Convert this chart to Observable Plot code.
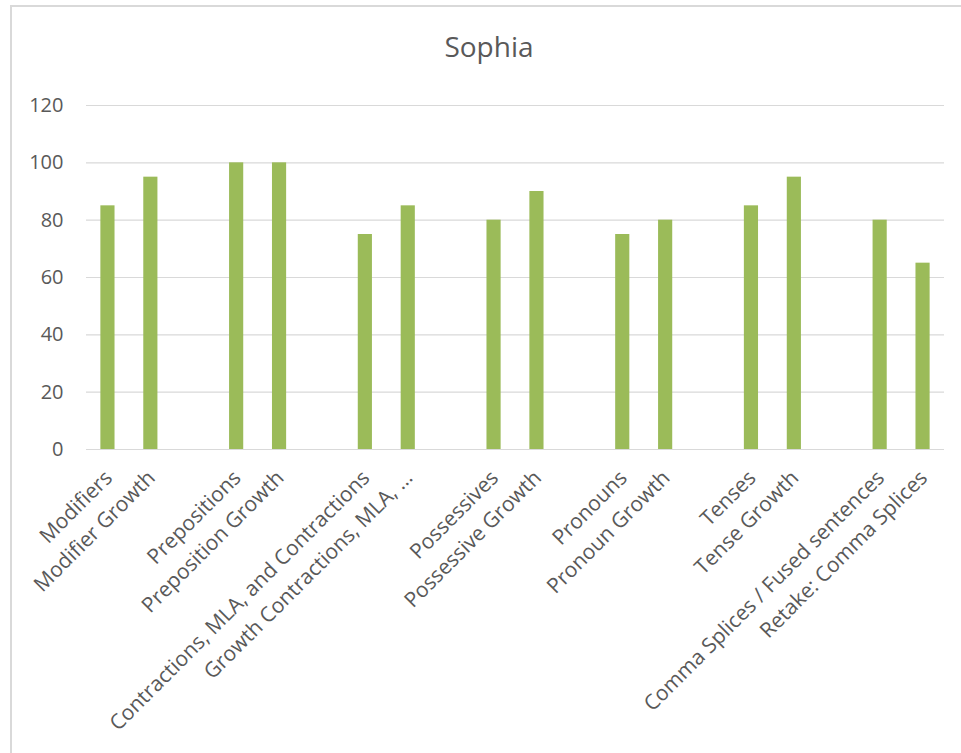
<!DOCTYPE html>
<html>
<head>
<meta charset="utf-8">
<script src="https://cdn.jsdelivr.net/npm/d3@7"></script>
<script src="https://cdn.jsdelivr.net/npm/@observablehq/plot@0.6"></script>
<style>
  html, body { margin: 0; padding: 0; background: #fff; }
  #wrap { position: relative; width: 961px; height: 753px; overflow: hidden; font-family: "Open Sans", sans-serif; }
  #frame { position: absolute; left: 10px; top: 5px; width: 1000px; height: 800px; border-left: 2px solid #d9d9d9; border-top: 2px solid #d9d9d9; box-sizing: border-box; }
  #title { position: absolute; left: 0; width: 978px; top: 26px; text-align: center; font-size: 28px; color: #595959; line-height: 40px; }
  #chart { position: absolute; left: 0; top: 0; }
</style>
</head>
<body>
<div id="wrap">
  <div id="frame"></div>
  <div id="chart"></div>
  <div id="title">Sophia</div>
</div>
<script>
// Category slots along the x axis; null marks an empty spacer slot between topic pairs.
const categories = [
  "Modifiers", "Modifier Growth", null,
  "Prepositions", "Preposition Growth", null,
  "Contractions, MLA, and Contractions", "Growth Contractions, MLA, \u2026", null,
  "Possessives", "Possessive Growth", null,
  "Pronouns", "Pronoun Growth", null,
  "Tenses", "Tense Growth", null,
  "Comma Splices / Fused sentences", "Retake: Comma Splices"
];
const scores = [
  85, 95, null,
  100, 100, null,
  75, 85, null,
  80, 90, null,
  75, 80, null,
  85, 95, null,
  80, 65
];
const yTicks = [0, 20, 40, 60, 80, 100, 120];

const rows = categories.map((c, i) => ({ i, label: c, value: scores[i] }));
const bars = rows.filter(d => d.value != null);
const labelled = rows.filter(d => d.label != null);

const chart = Plot.plot({
  width: 961,
  height: 753,
  marginTop: 105,
  marginBottom: 304,
  marginLeft: 86,
  marginRight: 17,
  style: { fontFamily: "Open Sans, sans-serif", background: "transparent", overflow: "visible" },
  x: { type: "band", domain: d3.range(categories.length), paddingInner: 0.67, paddingOuter: 0.335, round: false, axis: null },
  y: { domain: [0, 120], axis: null },
  marks: [
    Plot.ruleY(yTicks, { stroke: "#d9d9d9", strokeWidth: 1.2 }),
    Plot.barY(bars, { x: "i", y: "value", fill: "#9bbb59" }),
    Plot.axisY({ ticks: yTicks, tickSize: 0, tickPadding: 23, fontSize: 20, color: "#595959", label: null }),
    Plot.text(labelled, {
      x: "i",
      frameAnchor: "bottom",
      text: "label",
      rotate: -45,
      textAnchor: "end",
      lineAnchor: "top",
      dx: -5,
      dy: 19,
      fontSize: 21,
      fill: "#595959"
    })
  ]
});
document.getElementById("chart").appendChild(chart);
</script>
</body>
</html>
